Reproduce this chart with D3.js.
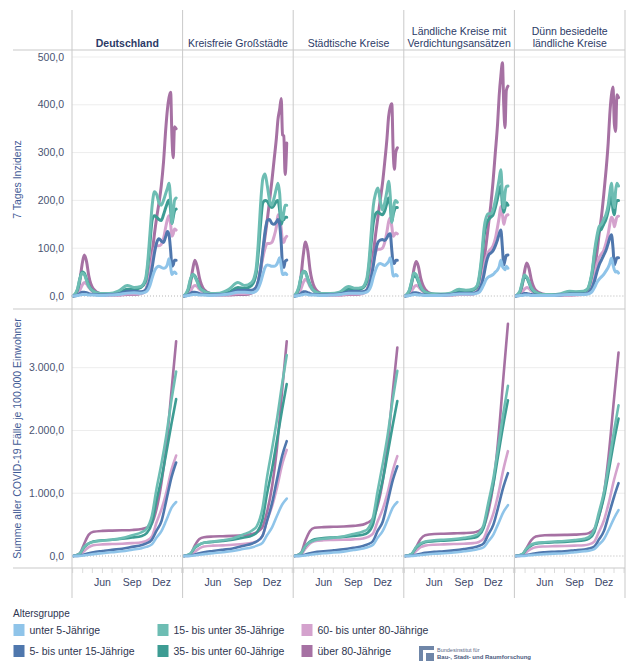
<!DOCTYPE html>
<html>
<head>
<meta charset="utf-8">
<script src="https://cdn.jsdelivr.net/npm/d3@7"></script>
<style>
  body { margin: 0; background: #fff; }
  svg { display: block; font-family: Arial, "Liberation Sans", sans-serif; }
</style>
</head>
<body>
<svg id="chart"></svg>
<script>
const width = 632;
const height = 661;

// panel headers (one entry per region, lines of text)
const regionTitles = [
    ["Deutschland"],
    ["Kreisfreie Großstädte"],
    ["Städtische Kreise"],
    ["Ländliche Kreise mit", "Verdichtungsansätzen"],
    ["Dünn besiedelte", "ländliche Kreise"]
];

const ageGroups = [
    "unter 5-Jährige",
    "5- bis unter 15-Jährige",
    "15- bis unter 35-Jährige",
    "35- bis unter 60-Jährige",
    "60- bis unter 80-Jährige",
    "über 80-Jährige"
];
const ageColors = ["#8fc4e9", "#4f77ad", "#6dbdb3", "#3d9c93", "#d4a2cd", "#a671a3"];

const incTicks = [0, 100, 200, 300, 400, 500];
const cumTicks = [0, 1000, 2000, 3000];
const monthTickDates = ["2020-06-01", "2020-09-01", "2020-12-01"];
const monthTickNames = ["Jun", "Sep", "Dez"];

// 7 Tages Inzidenz
const incDates = ["2020-03-03", "2020-03-16", "2020-03-23", "2020-03-30", "2020-04-06", "2020-04-13",
    "2020-04-20", "2020-05-04", "2020-05-25", "2020-06-22", "2020-07-20", "2020-08-17", "2020-09-07",
    "2020-09-28", "2020-10-12", "2020-10-19", "2020-10-26", "2020-11-02", "2020-11-09", "2020-11-16",
    "2020-11-23", "2020-11-30", "2020-12-07", "2020-12-14", "2020-12-19", "2020-12-24", "2020-12-29",
    "2021-01-02", "2021-01-06", "2021-01-10", "2021-01-15"];

const incDeutschland = [
    [0, 1, 2, 3, 3, 3, 2, 2, 1, 2, 3, 6, 7, 6, 8, 12, 22, 38, 52, 60, 62, 60, 58, 60, 66, 78, 60, 45, 48, 50, 47],
    [0, 2, 5, 8, 8, 7, 5, 3, 2, 3, 4, 10, 10, 9, 12, 20, 35, 60, 90, 112, 120, 115, 112, 125, 135, 128, 95, 62, 65, 75, 75],
    [0, 15, 35, 48, 45, 32, 20, 10, 5, 5, 10, 22, 18, 20, 35, 70, 130, 190, 218, 212, 195, 190, 200, 215, 225, 236, 200, 152, 175, 200, 205],
    [0, 12, 35, 50, 48, 35, 22, 10, 5, 4, 6, 14, 14, 18, 30, 60, 110, 160, 168, 165, 160, 158, 170, 185, 195, 201, 180, 152, 165, 178, 182],
    [0, 4, 12, 22, 28, 25, 18, 8, 3, 2, 2, 4, 4, 5, 10, 22, 45, 75, 98, 105, 105, 108, 120, 145, 160, 168, 150, 125, 130, 140, 138],
    [0, 5, 30, 65, 86, 72, 42, 15, 5, 2, 2, 3, 3, 5, 12, 25, 50, 90, 130, 165, 195, 230, 280, 350, 390, 415, 426, 334, 289, 354, 350]
];
const incKreisfrei = [
    [0, 1, 2, 3, 3, 3, 2, 2, 1, 2, 4, 8, 8, 7, 10, 16, 28, 45, 60, 65, 64, 62, 62, 65, 72, 80, 62, 45, 45, 48, 45],
    [0, 2, 5, 8, 8, 7, 5, 3, 2, 3, 5, 12, 12, 12, 18, 30, 55, 95, 135, 158, 160, 152, 150, 155, 160, 150, 110, 65, 60, 72, 75],
    [0, 15, 35, 45, 40, 30, 18, 10, 5, 6, 14, 28, 22, 28, 55, 110, 190, 245, 255, 230, 200, 190, 205, 225, 236, 215, 165, 160, 175, 190, 190],
    [0, 12, 32, 45, 42, 32, 20, 10, 5, 5, 8, 18, 16, 22, 45, 90, 150, 195, 200, 198, 190, 185, 190, 198, 200, 180, 150, 158, 160, 165, 165],
    [0, 4, 10, 18, 22, 20, 14, 7, 3, 2, 3, 5, 5, 7, 14, 30, 55, 80, 100, 110, 110, 112, 125, 145, 170, 165, 140, 115, 112, 120, 125],
    [0, 5, 25, 55, 75, 62, 38, 14, 5, 2, 2, 3, 3, 6, 15, 30, 55, 90, 125, 160, 200, 240, 285, 330, 370, 390, 413, 337, 335, 254, 320]
];
const incStaedtisch = [
    [0, 1, 2, 3, 4, 3, 2, 2, 1, 2, 3, 6, 6, 6, 8, 12, 22, 40, 55, 65, 68, 66, 64, 68, 72, 80, 62, 42, 42, 45, 42],
    [0, 2, 5, 9, 9, 7, 5, 3, 2, 3, 4, 9, 10, 9, 12, 20, 38, 65, 95, 112, 117, 118, 116, 122, 128, 130, 95, 70, 68, 75, 75],
    [0, 18, 40, 52, 48, 35, 22, 10, 5, 5, 8, 20, 16, 18, 35, 70, 130, 190, 215, 226, 200, 180, 195, 220, 240, 210, 154, 175, 195, 200, 196],
    [0, 15, 38, 52, 50, 37, 24, 10, 5, 4, 5, 14, 13, 16, 30, 60, 110, 155, 172, 176, 172, 170, 178, 195, 205, 190, 156, 170, 180, 185, 185],
    [0, 5, 15, 28, 35, 30, 20, 9, 3, 2, 2, 4, 4, 5, 10, 20, 42, 72, 92, 98, 98, 100, 112, 135, 155, 163, 145, 125, 128, 132, 130],
    [0, 8, 40, 85, 113, 95, 55, 18, 5, 2, 2, 3, 3, 5, 12, 25, 50, 90, 130, 165, 200, 235, 280, 330, 375, 395, 402, 306, 265, 300, 310]
];
const incLaendlich = [
    [0, 1, 2, 3, 3, 2, 2, 1, 1, 1, 2, 4, 4, 4, 6, 8, 15, 25, 35, 40, 42, 45, 50, 55, 62, 75, 62, 58, 55, 62, 58],
    [0, 1, 4, 7, 7, 6, 4, 2, 1, 2, 3, 6, 6, 6, 8, 14, 25, 45, 70, 85, 90, 95, 105, 118, 130, 138, 100, 65, 75, 85, 86],
    [0, 12, 30, 48, 45, 33, 20, 8, 4, 4, 6, 14, 12, 14, 22, 45, 85, 140, 165, 172, 172, 180, 200, 225, 245, 264, 210, 184, 215, 229, 230],
    [0, 10, 28, 42, 40, 30, 18, 8, 4, 3, 4, 10, 10, 12, 20, 40, 75, 125, 150, 160, 165, 170, 185, 205, 220, 230, 190, 175, 185, 195, 190],
    [0, 3, 10, 18, 22, 20, 14, 6, 2, 1, 2, 3, 3, 4, 8, 16, 32, 58, 80, 92, 98, 105, 120, 145, 165, 187, 170, 150, 160, 168, 170],
    [0, 4, 25, 55, 72, 62, 38, 14, 4, 2, 2, 3, 3, 4, 10, 20, 40, 75, 110, 150, 190, 240, 300, 360, 420, 460, 488, 400, 352, 430, 439]
];
const incDuenn = [
    [0, 1, 1, 2, 2, 2, 1, 1, 1, 1, 2, 3, 3, 3, 4, 6, 10, 18, 28, 35, 40, 45, 52, 60, 68, 79, 65, 55, 50, 52, 48],
    [0, 1, 3, 5, 5, 4, 3, 2, 1, 1, 2, 4, 4, 4, 6, 10, 18, 32, 50, 65, 75, 85, 95, 110, 122, 128, 100, 65, 72, 80, 80],
    [0, 10, 28, 44, 40, 30, 18, 8, 3, 3, 5, 10, 9, 10, 16, 30, 55, 95, 125, 145, 150, 160, 170, 190, 215, 236, 200, 185, 220, 236, 230],
    [0, 8, 25, 40, 38, 28, 16, 7, 3, 2, 3, 8, 8, 9, 14, 28, 50, 88, 115, 135, 140, 150, 160, 178, 195, 210, 180, 170, 190, 200, 200],
    [0, 3, 8, 14, 18, 16, 11, 5, 2, 1, 1, 2, 2, 3, 6, 12, 24, 45, 65, 80, 88, 95, 110, 130, 150, 165, 160, 145, 155, 165, 167],
    [0, 4, 22, 50, 69, 58, 35, 12, 4, 2, 2, 2, 3, 4, 8, 15, 30, 60, 90, 130, 165, 210, 260, 320, 380, 420, 437, 360, 344, 421, 415]
];

// Summe aller Fälle je 100.000 Einwohner
const cumDates = ["2020-03-03", "2020-03-23", "2020-04-06", "2020-04-20", "2020-05-04", "2020-06-01",
    "2020-07-01", "2020-08-01", "2020-09-01", "2020-10-01", "2020-10-15", "2020-11-01", "2020-11-15",
    "2020-12-01", "2020-12-15", "2021-01-01", "2021-01-15"];

const cumDeutschland = [
    [0, 2, 10, 20, 30, 45, 60, 75, 100, 125, 145, 185, 290, 400, 560, 770, 860],
    [0, 5, 25, 45, 60, 80, 100, 115, 145, 175, 200, 260, 400, 560, 870, 1260, 1490],
    [0, 40, 150, 200, 225, 245, 260, 285, 330, 380, 430, 640, 1060, 1480, 1900, 2500, 2940],
    [0, 35, 140, 200, 230, 250, 260, 275, 295, 320, 360, 520, 880, 1240, 1630, 2120, 2500],
    [0, 15, 80, 140, 170, 185, 190, 195, 205, 220, 240, 310, 530, 750, 1000, 1380, 1600],
    [0, 40, 200, 340, 385, 400, 405, 410, 415, 430, 450, 520, 740, 1180, 1720, 2650, 3420]
];
const cumKreisfrei = [
    [0, 2, 10, 20, 30, 45, 60, 80, 110, 140, 165, 210, 330, 460, 630, 820, 915],
    [0, 5, 25, 45, 60, 80, 100, 120, 160, 200, 235, 320, 560, 850, 1200, 1600, 1830],
    [0, 40, 140, 185, 210, 230, 250, 280, 340, 410, 480, 760, 1250, 1720, 2150, 2750, 3200],
    [0, 35, 130, 180, 210, 225, 240, 260, 290, 330, 380, 580, 990, 1400, 1820, 2340, 2740],
    [0, 15, 70, 120, 150, 165, 170, 180, 190, 210, 235, 320, 560, 800, 1070, 1460, 1690],
    [0, 30, 170, 270, 300, 310, 315, 320, 330, 350, 380, 460, 700, 1120, 1680, 2650, 3420]
];
const cumStaedtisch = [
    [0, 2, 10, 20, 30, 45, 55, 70, 95, 120, 140, 180, 290, 400, 560, 770, 860],
    [0, 5, 25, 45, 60, 75, 90, 105, 130, 160, 185, 240, 400, 550, 840, 1210, 1430],
    [0, 45, 160, 220, 250, 275, 290, 310, 350, 390, 430, 620, 1030, 1470, 1890, 2500, 2950],
    [0, 40, 160, 230, 265, 285, 295, 305, 320, 340, 370, 510, 860, 1210, 1600, 2090, 2470],
    [0, 20, 120, 200, 235, 250, 255, 260, 265, 280, 300, 360, 550, 750, 990, 1360, 1590],
    [0, 50, 250, 400, 450, 460, 465, 470, 480, 500, 530, 600, 800, 1200, 1720, 2620, 3320]
];
const cumLaendlich = [
    [0, 2, 8, 15, 22, 35, 45, 55, 75, 95, 110, 140, 230, 340, 500, 700, 810],
    [0, 4, 18, 35, 50, 65, 75, 90, 110, 135, 155, 200, 340, 500, 760, 1100, 1320],
    [0, 35, 140, 200, 230, 250, 260, 270, 290, 320, 350, 500, 840, 1240, 1700, 2280, 2710],
    [0, 30, 130, 190, 220, 235, 245, 255, 270, 290, 320, 450, 780, 1150, 1580, 2100, 2480],
    [0, 12, 80, 140, 165, 180, 185, 190, 195, 205, 220, 280, 460, 680, 960, 1380, 1670],
    [0, 20, 140, 270, 330, 350, 355, 360, 365, 375, 395, 470, 700, 1150, 1800, 2850, 3700]
];
const cumDuenn = [
    [0, 2, 7, 14, 20, 30, 38, 45, 60, 75, 85, 110, 180, 270, 410, 600, 730],
    [0, 3, 15, 30, 45, 60, 68, 75, 90, 105, 120, 150, 260, 400, 640, 940, 1160],
    [0, 30, 120, 180, 205, 220, 230, 240, 255, 275, 300, 420, 690, 1020, 1440, 1990, 2400],
    [0, 25, 110, 165, 195, 210, 218, 225, 235, 250, 275, 380, 630, 940, 1330, 1830, 2190],
    [0, 10, 65, 115, 140, 152, 157, 160, 165, 172, 185, 230, 380, 570, 830, 1210, 1470],
    [0, 20, 130, 250, 310, 330, 333, 336, 340, 350, 365, 430, 620, 1000, 1580, 2500, 3240]
];

const incByRegion = [incDeutschland, incKreisfrei, incStaedtisch, incLaendlich, incDuenn];
const cumByRegion = [cumDeutschland, cumKreisfrei, cumStaedtisch, cumLaendlich, cumDuenn];

const parseDate = d3.timeParse("%Y-%m-%d");
const de = d3.formatLocale({ decimal: ",", thousands: ".", grouping: [3], currency: ["", " €"] });
const fmt = de.format(",.1f");

const frameColor = "#c9c9c9";
const gridColor = "#ededed";
const textColor = "#3b4669";

const svg = d3.select("#chart").attr("width", width).attr("height", height);
svg.append("rect").attr("width", width).attr("height", height).attr("fill", "#fff");

const panelLeft = 72;
const panelW = 110.6;
const nPanels = regionTitles.length;
const frameLeft = 13;
const frameRight = panelLeft + panelW * nPanels;

// y scales for the two rows
const yInc = d3.scaleLinear().domain([0, 500]).range([296, 57]);
const yCum = d3.scaleLinear().domain([0, 3000]).range([556, 367.7]);
const rows = [
    { y: yInc, ticks: incTicks, top: 50, bottom: 309, dates: incDates, data: incByRegion, width: 3 },
    { y: yCum, ticks: cumTicks, top: 309, bottom: 568, dates: cumDates, data: cumByRegion, width: 2.6 }
];

const gGrid = svg.append("g");
const gLines = svg.append("g");
const gFrame = svg.append("g");

rows.forEach(row => {
    // tick labels on the left
    svg.append("g").selectAll("text")
        .data(row.ticks)
        .join("text")
        .attr("x", 64)
        .attr("y", d => row.y(d))
        .attr("dy", "0.35em")
        .attr("text-anchor", "end")
        .attr("font-size", 10.5)
        .attr("fill", "#4a5472")
        .text(d => fmt(d));
});

regionTitles.forEach((title, i) => {
    const x0 = panelLeft + i * panelW;
    const x = d3.scaleTime()
        .domain([new Date(2020, 1, 28), new Date(2021, 1, 4)])
        .range([x0, x0 + panelW]);

    // header text
    const header = svg.append("text")
        .attr("text-anchor", "middle")
        .attr("font-size", 10.5)
        .attr("fill", "#2c3a66")
        .attr("font-weight", i === 0 ? "bold" : "normal");
    title.forEach((line, k) => {
        header.append("tspan")
            .attr("x", x0 + panelW / 2)
            .attr("y", 46.5 - (title.length - 1 - k) * 12)
            .text(line);
    });

    rows.forEach(row => {
        // grid lines
        gGrid.selectAll(null)
            .data(row.ticks.filter(t => t > 0))
            .join("line")
            .attr("x1", x0).attr("x2", x0 + panelW)
            .attr("y1", d => row.y(d)).attr("y2", d => row.y(d))
            .attr("stroke", gridColor);
        gGrid.append("line")
            .attr("x1", x0).attr("x2", x0 + panelW)
            .attr("y1", row.y(0)).attr("y2", row.y(0))
            .attr("stroke", "#b5b5b5")
            .attr("stroke-dasharray", "1,2");

        const dates = row.dates.map(parseDate);
        const line = d3.line()
            .x((d, j) => x(dates[j]))
            .y(d => row.y(d))
            .curve(d3.curveMonotoneX);

        const series = row.data[i];
        // draw from the oldest group to the youngest so light blue sits on top
        d3.range(series.length).reverse().forEach(s => {
            gLines.append("path")
                .attr("d", line(series[s]))
                .attr("fill", "none")
                .attr("stroke", ageColors[s])
                .attr("stroke-width", row.width)
                .attr("stroke-linejoin", "round")
                .attr("stroke-linecap", "round");
        });
    });

    // month ticks and labels under the bottom row
    const months = d3.timeMonth.range(new Date(2020, 2, 1), new Date(2021, 1, 2));
    gFrame.selectAll(null)
        .data(months)
        .join("line")
        .attr("x1", d => x(d)).attr("x2", d => x(d))
        .attr("y1", 568).attr("y2", 573)
        .attr("stroke", "#dcdcdc");
    svg.append("g").selectAll("text")
        .data(monthTickDates)
        .join("text")
        .attr("x", d => x(parseDate(d)))
        .attr("y", 585.5)
        .attr("text-anchor", "middle")
        .attr("font-size", 10.5)
        .attr("fill", textColor)
        .text((d, j) => monthTickNames[j]);
});

// frame: panel separators and row rules
d3.range(nPanels + 1).forEach(i => {
    const xx = panelLeft + i * panelW;
    gFrame.append("line")
        .attr("x1", xx).attr("x2", xx)
        .attr("y1", 10).attr("y2", 598)
        .attr("stroke", frameColor);
});
[50, 309, 568].forEach(yy => {
    gFrame.append("line")
        .attr("x1", frameLeft).attr("x2", frameRight)
        .attr("y1", yy).attr("y2", yy)
        .attr("stroke", frameColor);
});

// axis titles
svg.append("text")
    .attr("transform", `translate(21,${(50 + 309) / 2}) rotate(-90)`)
    .attr("text-anchor", "middle")
    .attr("font-size", 10.5)
    .attr("fill", "#3f5a95")
    .text("7 Tages Inzidenz");
svg.append("text")
    .attr("transform", `translate(21,${(309 + 568) / 2}) rotate(-90)`)
    .attr("text-anchor", "middle")
    .attr("font-size", 10.5)
    .attr("fill", "#3f5a95")
    .text("Summe aller COVID-19 Fälle je 100.000 Einwohner");

// legend
const legend = svg.append("g");
legend.append("text")
    .attr("x", 13).attr("y", 617)
    .attr("font-size", 10)
    .attr("fill", "#2e3550")
    .text("Altersgruppe");
const legendCols = [13.5, 157.5, 301.5];
ageGroups.forEach((name, k) => {
    const lx = legendCols[Math.floor(k / 2)];
    const ly = 630 + (k % 2) * 21;
    legend.append("rect")
        .attr("x", lx).attr("y", ly - 6)
        .attr("width", 11).attr("height", 12)
        .attr("fill", ageColors[k]);
    legend.append("text")
        .attr("x", lx + 16).attr("y", ly)
        .attr("dy", "0.35em")
        .attr("font-size", 10.5)
        .attr("fill", "#2e3550")
        .text(name);
});

// institute logo, bottom right
const logo = svg.append("g").attr("transform", "translate(419,646)");
logo.append("rect").attr("width", 15).attr("height", 15).attr("fill", "#6f86a8");
logo.append("path")
    .attr("d", "M4,4 H15 V7 H7 V15 H4 Z")
    .attr("fill", "#fff");
logo.append("text")
    .attr("x", 18).attr("y", 6)
    .attr("font-size", 5.5)
    .attr("fill", "#5a6786")
    .text("Bundesinstitut für");
logo.append("text")
    .attr("x", 18).attr("y", 12.5)
    .attr("font-size", 6)
    .attr("font-weight", "bold")
    .attr("fill", "#4b5a7e")
    .text("Bau-, Stadt- und Raumforschung");
</script>
</body>
</html>
